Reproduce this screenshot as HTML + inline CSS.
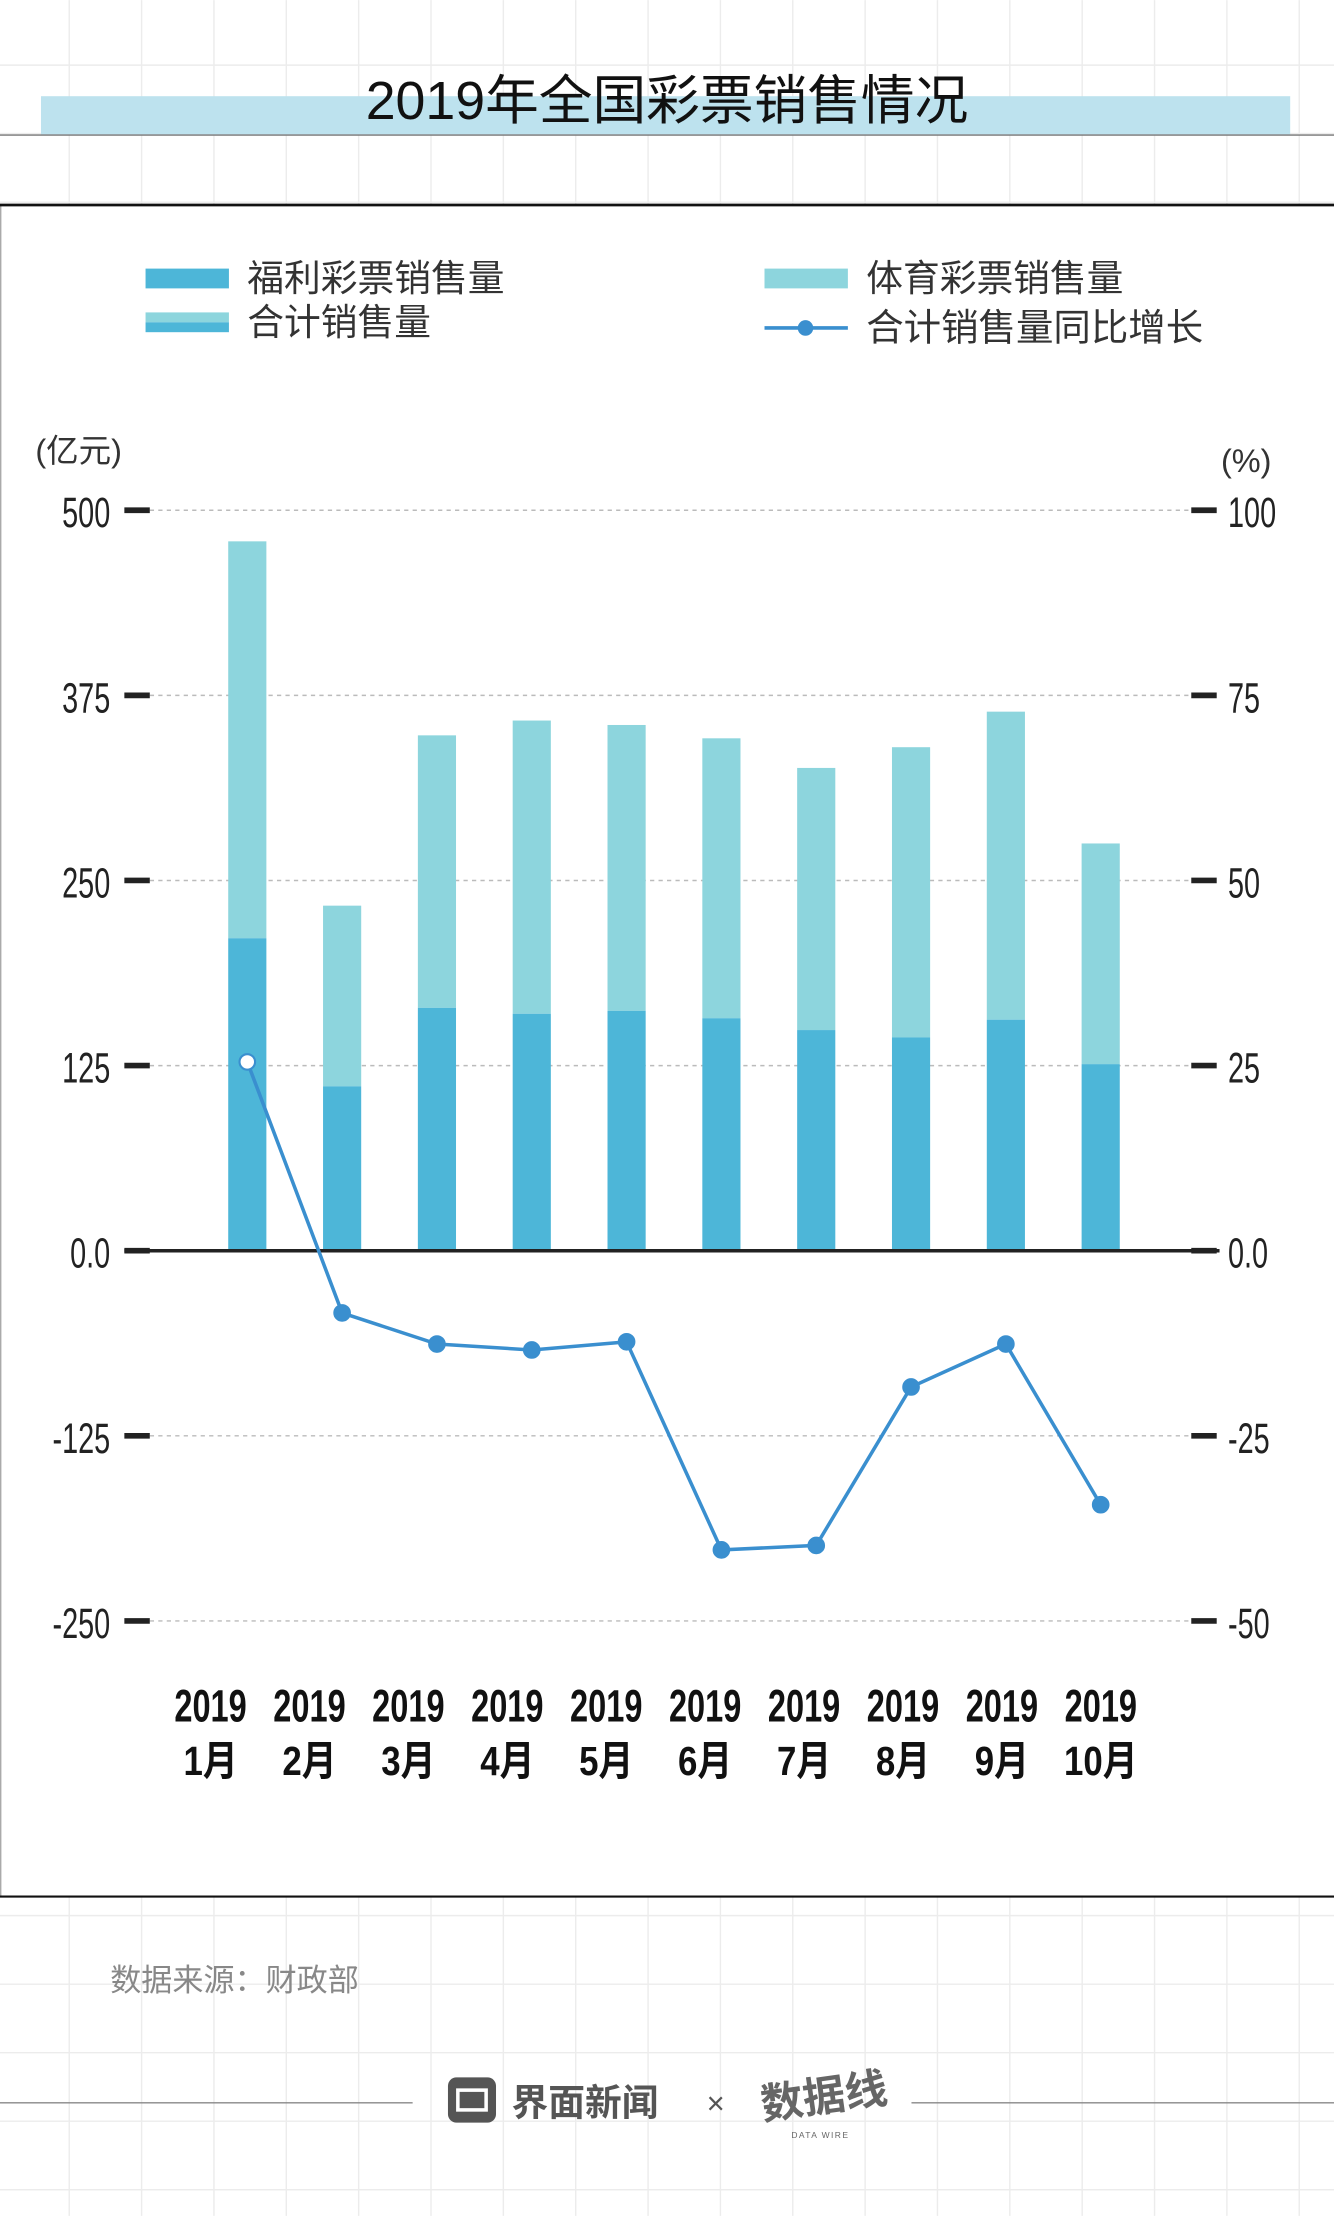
<!DOCTYPE html>
<html><head><meta charset="utf-8"><style>
html,body{margin:0;padding:0;background:#fff}
svg{display:block}
text{font-family:"Liberation Sans","Noto Sans CJK SC",sans-serif}
.num{font-family:"Liberation Sans Narrow","Liberation Sans",sans-serif}
</style></head><body>
<svg id="c" width="1334" height="2216" viewBox="0 0 944 1568" xmlns="http://www.w3.org/2000/svg">
<g id="bggrid"></g>
<rect x="29" y="68" width="884" height="27" fill="#bde2ee"/>
<line x1="0" y1="95.5" x2="944" y2="95.5" stroke="#777" stroke-width="1"/>
<text x="472" y="84" text-anchor="middle" font-size="38" fill="#111">2019年全国彩票销售情况</text>
<rect x="0.5" y="145" width="944" height="1197" fill="#fff" stroke="#aaa" stroke-width="1"/>
<line x1="0" y1="145" x2="944" y2="145" stroke="#111" stroke-width="2"/>
<line x1="0" y1="1342" x2="944" y2="1342" stroke="#111" stroke-width="1.5"/>
<g>
<rect x="103" y="190" width="59" height="14" fill="#4db6d8"/>
<text x="175" y="206" font-size="26" fill="#333">福利彩票销售量</text>
<rect x="103" y="221" width="59" height="7" fill="#8dd5dd"/>
<rect x="103" y="228" width="59" height="7" fill="#4db6d8"/>
<text x="175" y="237" font-size="26" fill="#333">合计销售量</text>
<rect x="541" y="190" width="59" height="14" fill="#8dd5dd"/>
<text x="613" y="206" font-size="26" fill="#333">体育彩票销售量</text>
<line x1="541" y1="232" x2="600" y2="232" stroke="#3a8fcf" stroke-width="2.5"/>
<circle cx="570" cy="232" r="5.5" fill="#3a8fcf"/>
<text x="613" y="241" font-size="26.5" fill="#333">合计销售量同比增长</text>
</g>
<text x="25" y="327" font-size="23" fill="#333">(亿元)</text>
<text x="864" y="334" font-size="23" fill="#333">(%)</text>
<g id="plot"></g>
<text x="78" y="1409" font-size="22" fill="#888">数据来源：财政部</text>
<line x1="0" y1="1488" x2="292" y2="1488" stroke="#888"/>
<line x1="645" y1="1488" x2="944" y2="1488" stroke="#888"/>
<rect x="317" y="1470" width="34" height="32" rx="6" fill="#555"/>
<rect x="324" y="1479" width="20" height="14" fill="none" stroke="#fff" stroke-width="2.5"/>
<text x="362" y="1497" font-size="26" font-weight="bold" fill="#555">界面新闻</text>
<text x="500" y="1496" font-size="22" fill="#555">×</text>
<text x="540" y="1500" font-size="30" font-weight="bold" fill="#666" transform="translate(540 1500) rotate(-8) translate(-540 -1500)">数据线</text>
<text x="560" y="1513" font-size="6" fill="#666" letter-spacing="1">DATA WIRE</text>
</svg>
<script>
const months=["1月","2月","3月","4月","5月","6月","7月","8月","9月","10月"];
const welfare=[211,111,164,160,162,157,149,144,156,126];
const total=[479,233,348,358,355,346,326,340,364,275];
const growth=[25.5,-8.4,-12.6,-13.4,-12.3,-40.4,-39.8,-18.4,-12.6,-34.3];
const leftTicks=["500","375","250","125","0.0","-125","-250"];
const leftVals=[500,375,250,125,0,-125,-250];
const rightTicks=["100","75","50","25","0.0","-25","-50"];

const NS="http://www.w3.org/2000/svg";
function mk(t,a,p){const e=document.createElementNS(NS,t);for(const k in a)e.setAttribute(k,a[k]);(p||document.getElementById('plot')).appendChild(e);return e;}
const bg=document.getElementById('bggrid');
for(let x=49;x<944;x+=51.2)mk('line',{x1:x,y1:0,x2:x,y2:1568,stroke:'#ececec','stroke-width':1},bg);
for(let y=46;y<1568;y+=48.5)mk('line',{x1:0,y1:y,x2:944,y2:y,stroke:'#ececec','stroke-width':1},bg);
const y0=885, pxPer=131/125;
const yL=v=>y0-v*pxPer;
const yR=v=>y0-v*5*pxPer;
const xC=i=>175+i*67.1;
const xLab=i=>149+i*70;
leftVals.forEach((v,i)=>{
  const y=yL(v);
  if(v!==0){const g=mk('line',{x1:106,y1:y,x2:843,y2:y,stroke:'#bbb','stroke-dasharray':'3,3','stroke-width':1});
  
  }
  mk('line',{x1:88,y1:y,x2:106,y2:y,stroke:'#222','stroke-width':4});
  mk('line',{x1:843,y1:y,x2:861,y2:y,stroke:'#222','stroke-width':4});
  const t=mk('text',{x:78,y:y+12,'text-anchor':'end','font-size':30,fill:'#222',class:'num',transform:`translate(78 0) scale(0.68 1) translate(-78 0)`});
  t.textContent=leftTicks[i];
  
  
  const r=mk('text',{x:869,y:y+12,'font-size':30,fill:'#222',class:'num',transform:`translate(869 0) scale(0.68 1) translate(-869 0)`});
  r.textContent=rightTicks[i];
  
  
});
months.forEach((m,i)=>{
  const x=xC(i),w=27,lx=xLab(i);
  const s=mk('rect',{x:x-w/2,y:yL(total[i]),width:w,height:yL(welfare[i])-yL(total[i]),fill:'#8dd5dd'});
  
  
  const b=mk('rect',{x:x-w/2,y:yL(welfare[i]),width:w,height:y0-yL(welfare[i]),fill:'#4db6d8'});
  
  
  const t1=mk('text',{x:lx,y:1218,'font-size':32,'font-weight':'bold',fill:'#111',class:'num','text-anchor':'middle',transform:`translate(${lx} 0) scale(0.72 1) translate(${-lx} 0)`});
  t1.textContent='2019';
  
  
  const t2=mk('text',{x:lx,y:1256,'font-size':29,'font-weight':'bold',fill:'#111','text-anchor':'middle',transform:`translate(${lx} 0) scale(0.85 1) translate(${-lx} 0)`});
  t2.textContent=m;
  
  
});
const z=mk('line',{x1:88,y1:y0,x2:863,y2:y0,stroke:'#222','stroke-width':2.5});


const pl=mk('polyline',{points:growth.map((g,i)=>xC(i)+','+yR(g)).join(' '),fill:'none',stroke:'#3a8fcf','stroke-width':2.5});


growth.forEach((g,i)=>{
  const c=mk('circle',{cx:xC(i),cy:yR(g),r:5.5,fill:i===0?'#fff':'#3a8fcf',stroke:'#3a8fcf','stroke-width':1.5});
  
  
});
</script>
</body></html>
